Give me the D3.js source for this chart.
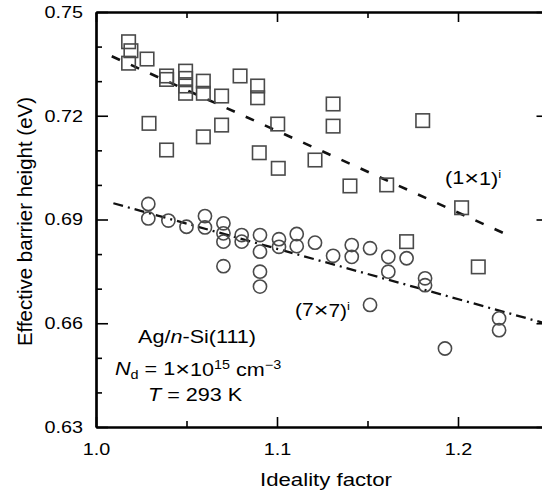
<!DOCTYPE html>
<html>
<head>
<meta charset="utf-8">
<script src="https://cdn.jsdelivr.net/npm/d3@7"></script>
<style>
  html, body { margin: 0; padding: 0; background: #fff; }
  svg { display: block; font-family: "Liberation Sans", Arial, Helvetica, sans-serif; }
</style>
</head>
<body>
<div id="chart"></div>
<script>
// (1x1) reconstruction: squares
const sqX = [1.018, 1.0193, 1.018, 1.0282, 1.039, 1.039, 1.0495, 1.0495, 1.0495, 1.0495,
    1.0593, 1.0593, 1.0694, 1.0796, 1.0893, 1.0893, 1.0293, 1.039, 1.0593, 1.0694,
    1.0902, 1.1004, 1.1007, 1.121, 1.131, 1.131, 1.1403, 1.1606, 1.1805, 1.202,
    1.2112, 1.1716];
const sqY = [0.7414, 0.7388, 0.7352, 0.7364, 0.7315, 0.7305, 0.7329, 0.7308, 0.7286, 0.7265,
    0.7300, 0.7265, 0.7257, 0.7315, 0.7286, 0.7252, 0.7178, 0.7101, 0.7139, 0.7173,
    0.7093, 0.7176, 0.7048, 0.7072, 0.7234, 0.7170, 0.6997, 0.7000, 0.7186, 0.6934,
    0.6763, 0.6836];

// (7x7) reconstruction: circles
const ciX = [1.0289, 1.0289, 1.04, 1.05, 1.0602, 1.0602, 1.0704, 1.0704, 1.0704, 1.0704,
    1.0805, 1.0805, 1.0906, 1.0906, 1.0906, 1.0906, 1.1011, 1.1011, 1.1109, 1.1109,
    1.121, 1.131, 1.1413, 1.1413, 1.1514, 1.1615, 1.1615, 1.1716, 1.1818, 1.1818,
    1.1514, 1.1928, 1.2227, 1.2227];
const ciY = [0.6945, 0.6903, 0.6897, 0.6879, 0.6910, 0.6877, 0.6889, 0.6860, 0.6836, 0.6765,
    0.6855, 0.6836, 0.6855, 0.6807, 0.6749, 0.6706, 0.6843, 0.6821, 0.6858, 0.6823,
    0.6833, 0.6795, 0.6826, 0.6792, 0.6817, 0.6792, 0.6749, 0.6788, 0.6730, 0.6710,
    0.6653, 0.6527, 0.6614, 0.6580];

// fit lines (end points)
const fit1x1X = [1.0087, 1.2276];
const fit1x1Y = [0.7372, 0.6855];
const fit7x7X = [1.0096, 1.25];
const fit7x7Y = [0.6947, 0.6597];

// ticks
const yMajor = [0.63, 0.66, 0.69, 0.72, 0.75];
const yMinor = [0.64, 0.65, 0.67, 0.68, 0.70, 0.71, 0.73, 0.74];
const xMajor = [1.0, 1.1, 1.2];
const xMinor = [1.05, 1.15];

const width = 542, height = 497;
const m = { left: 96, top: 12, right: 548.5, bottom: 427 };
const SX = 1.2; // horizontal stretch of the lettering

const svg = d3.select('#chart').append('svg')
    .attr('width', width)
    .attr('height', height)
    .attr('viewBox', `0 0 ${width} ${height}`);

const x = d3.scaleLinear().domain([1.0, 1.25]).range([m.left, m.right]);
const y = d3.scaleLinear().domain([0.63, 0.75]).range([m.bottom, m.top]);

/* axes, ticks pointing inwards */
function axisGroup(axis, tx, ty) {
    const g = svg.append('g').attr('transform', `translate(${tx},${ty})`).call(axis);
    g.select('.domain').attr('stroke', '#000').attr('stroke-width', 2.2);
    g.selectAll('.tick line').attr('stroke', '#000').attr('stroke-width', 1.6);
    return g;
}

const gl = axisGroup(d3.axisLeft(y).tickValues(yMajor).tickSize(-12).tickSizeOuter(0)
    .tickPadding(13).tickFormat(d3.format('.2f')), m.left, 0);
axisGroup(d3.axisLeft(y).tickValues(yMinor).tickSize(-6).tickSizeOuter(0).tickFormat(''), m.left, 0);
axisGroup(d3.axisRight(y).tickValues(yMajor).tickSize(-12).tickSizeOuter(0).tickFormat(''), m.right, 0);
axisGroup(d3.axisRight(y).tickValues(yMinor).tickSize(-6).tickSizeOuter(0).tickFormat(''), m.right, 0);

const gb = axisGroup(d3.axisBottom(x).tickValues(xMajor).tickSize(-10).tickSizeOuter(0)
    .tickPadding(16).tickFormat(d3.format('.1f')), 0, m.bottom);
axisGroup(d3.axisBottom(x).tickValues(xMinor).tickSize(-6).tickSizeOuter(0).tickFormat(''), 0, m.bottom);
axisGroup(d3.axisTop(x).tickValues(xMajor).tickSize(-10).tickSizeOuter(0).tickFormat(''), 0, m.top);
axisGroup(d3.axisTop(x).tickValues(xMinor).tickSize(-6).tickSizeOuter(0).tickFormat(''), 0, m.top);

gl.selectAll('.tick text')
    .attr('font-size', 16.5).attr('font-family', null).attr('fill', '#000')
    .attr('x', -13 / SX)
    .attr('transform', `scale(${SX},1)`);
gb.selectAll('.tick text')
    .attr('font-size', 16.5).attr('font-family', null).attr('fill', '#000')
    .attr('transform', `scale(${SX},1)`);

/* text helper: stretched lettering like the scan */
function label(px, py, size, anchor) {
    return svg.append('text')
        .attr('transform', `translate(${px},${py}) scale(${SX},1)`)
        .attr('font-size', size)
        .attr('text-anchor', anchor || 'start')
        .attr('fill', '#000');
}
// the scan's multiplication sign is drawn large
function times(t) {
    t.append('tspan').attr('font-size', 21).attr('dy', 1).text('×');
    t.append('tspan').attr('dy', -1);
}

label(326, 486, 18.5, 'middle').text('Ideality factor');

svg.append('text')
    .attr('transform', `translate(32,${(m.top + m.bottom) / 2 + 2}) rotate(-90)`)
    .attr('font-size', 20.5)
    .attr('text-anchor', 'middle')
    .text('Effective barrier height (eV)');

/* fit lines */
const line = d3.line().x(d => x(d[0])).y(d => y(d[1]));

svg.append('path')
    .datum(d3.zip(fit1x1X, fit1x1Y))
    .attr('d', line)
    .attr('fill', 'none')
    .attr('stroke', '#111')
    .attr('stroke-width', 2.6)
    .attr('stroke-dasharray', '9,12');

svg.append('path')
    .datum(d3.zip(fit7x7X, fit7x7Y))
    .attr('d', line)
    .attr('fill', 'none')
    .attr('stroke', '#111')
    .attr('stroke-width', 2.3)
    .attr('stroke-dasharray', '10,5,2,5');

/* markers */
const side = 13.5;
svg.append('g').selectAll('rect')
    .data(d3.zip(sqX, sqY))
    .join('rect')
    .attr('x', d => x(d[0]) - side / 2)
    .attr('y', d => y(d[1]) - side / 2)
    .attr('width', side)
    .attr('height', side)
    .attr('fill', 'none')
    .attr('stroke', '#4a4a4a')
    .attr('stroke-width', 1.6);

svg.append('g').selectAll('circle')
    .data(d3.zip(ciX, ciY))
    .join('circle')
    .attr('cx', d => x(d[0]))
    .attr('cy', d => y(d[1]))
    .attr('r', 6.6)
    .attr('fill', 'none')
    .attr('stroke', '#4a4a4a')
    .attr('stroke-width', 1.6);

/* annotations */
const t1 = label(445, 184, 18);
t1.append('tspan').text('(1');
times(t1);
t1.append('tspan').text('1)');
t1.append('tspan').attr('font-size', 11).attr('dy', -7).text('i');

const t2 = label(295, 316, 17.5);
t2.append('tspan').text('(7');
times(t2);
t2.append('tspan').text('7)');
t2.append('tspan').attr('font-size', 11).attr('dy', -7).text('i');

const a1 = label(138, 343, 18);
a1.append('tspan').text('Ag/');
a1.append('tspan').attr('font-style', 'italic').text('n');
a1.append('tspan').text('-Si(111)');

const a2 = label(115, 375, 18);
a2.append('tspan').attr('font-style', 'italic').text('N');
a2.append('tspan').attr('font-size', 12).attr('dy', 4).text('d');
a2.append('tspan').attr('dy', -4).text(' = 1');
times(a2);
a2.append('tspan').text('10');
a2.append('tspan').attr('font-size', 12).attr('dy', -7).text('15');
a2.append('tspan').attr('dy', 7).text(' cm');
a2.append('tspan').attr('font-size', 12).attr('dy', -7).text('−3');

const a3 = label(148, 401, 18);
a3.append('tspan').attr('font-style', 'italic').text('T');
a3.append('tspan').text(' = 293 K');
</script>
</body>
</html>
